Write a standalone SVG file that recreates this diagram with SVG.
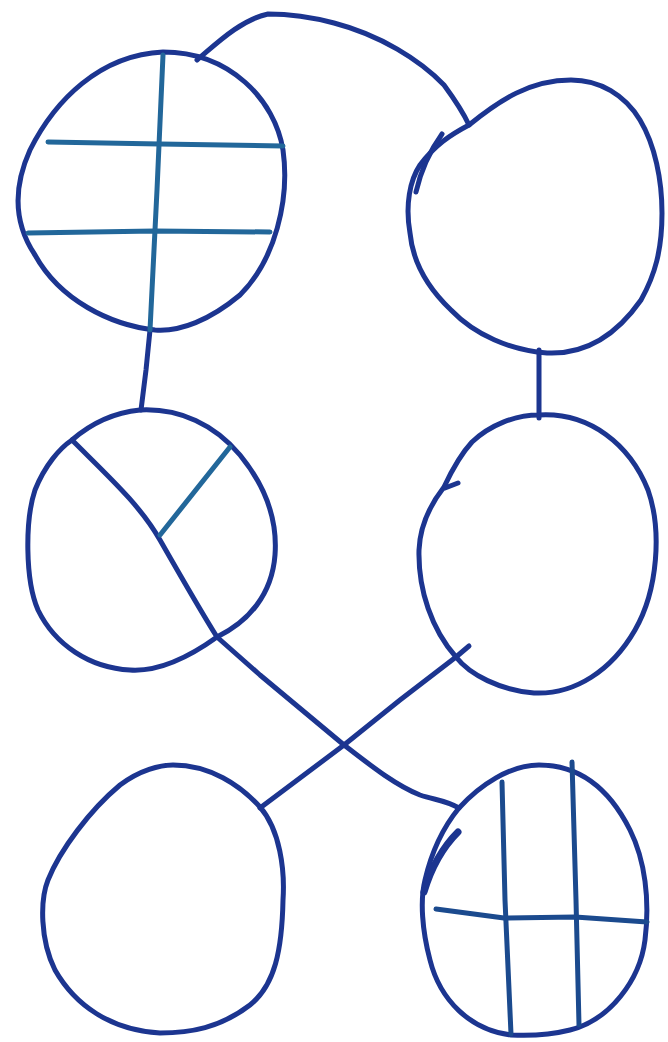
<svg xmlns="http://www.w3.org/2000/svg" width="668" height="1042" viewBox="0 0 668 1042">
<style>
.o{fill:none;stroke:#1c3590;stroke-width:5;stroke-linecap:round;stroke-linejoin:round}
.i{fill:none;stroke:#22679a;stroke-width:5;stroke-linecap:round;stroke-linejoin:round}
.d{fill:none;stroke:#1b4a8e;stroke-width:5;stroke-linecap:round;stroke-linejoin:round}
</style>
<rect width="668" height="1042" fill="#ffffff"/>
<g id="connectors">
<path class="o" d="M197,60 C215,45 240,20 268,14 C290,14 315,18 334,23 C380,35 420,60 444,85 C455,100 463,112 469,125"/>
<path class="o" d="M150,330 L146,370 L141,410"/>
<path class="o" d="M539,350 L539,418"/>
<path class="o" d="M217,637 L260,675 L344,745 C370,765 395,785 420,795 C435,800 445,800 459,808"/>
<path class="o" d="M456,657 L400,700 L344,745 L260,808"/>
</g>
<g id="node-top-left">
<path class="o" d="M163,52 C230,52 275,100 283,150 C290,200 275,260 240,295 C210,320 180,332 155,330 C110,325 60,300 35,255 C15,225 12,190 30,150 C55,100 100,55 163,52 Z"/>
<path class="i" d="M163,55 L157,190 L150,330"/>
<path class="i" d="M48,142 L160,144 L283,146"/>
<path class="i" d="M28,233 L155,231 L270,232"/>
</g>
<g id="node-top-right">
<path class="o" d="M571,80 C600,80 625,95 640,120 C655,145 662,180 662,213 C662,250 655,275 641,300 C620,330 590,355 547,353 C510,350 475,335 451,310 C430,290 413,265 410,233 C405,205 410,180 420,165 C435,145 450,135 469,125 C500,100 530,80 571,80 Z"/>
<path class="o" d="M442,134 C432,148 422,165 416,192"/>
</g>
<g id="node-mid-left">
<path class="o" d="M140,410 C180,408 215,425 240,455 C262,482 278,515 275,555 C272,595 248,622 217,637 C192,655 160,672 130,670 C90,668 55,645 38,610 C25,580 25,520 35,490 C45,465 60,448 72,440 C95,420 120,412 140,410 Z"/>
<path class="o" d="M72,440 C110,478 140,505 160,540 C180,575 200,610 217,637"/>
<path class="i" d="M230,447 L160,535"/>
</g>
<g id="node-mid-right">
<path class="o" d="M539,415 C590,412 630,445 648,490 C662,530 658,590 635,630 C612,670 575,695 534,693 C500,690 470,675 456,657 C432,630 418,590 419,550 C420,525 430,505 444,487 C452,470 460,455 472,442 C490,425 515,415 539,415 Z"/>
<path class="o" d="M456,657 L469,646"/>
<path class="o" d="M445,488 L458,483"/>
</g>
<g id="node-bottom-left">
<path class="o" d="M173,765 C210,765 240,785 260,807 C280,830 285,870 283,900 C282,950 275,985 250,1005 C220,1028 190,1033 160,1033 C110,1030 75,1005 55,970 C40,940 40,900 48,880 C60,850 90,810 120,785 C140,770 160,765 173,765 Z"/>
</g>
<g id="node-bottom-right">
<path class="o" d="M539,765 C580,765 610,790 630,830 C645,860 650,900 645,940 C640,980 610,1020 570,1030 C550,1035 530,1036 511,1035 C470,1030 440,1000 430,960 C422,930 420,900 425,880 C432,850 445,825 459,808 C480,785 510,765 539,765 Z"/>
<path class="o" d="M458,832 C445,845 432,865 424,892" style="stroke-width:7"/>
<path class="d" d="M502,782 L505,900 L511,1034"/>
<path class="d" d="M572,762 L576,900 L579,1025"/>
<path class="d" d="M436,909 L504,918 L575,917 L647,922"/>
</g>
</svg>
